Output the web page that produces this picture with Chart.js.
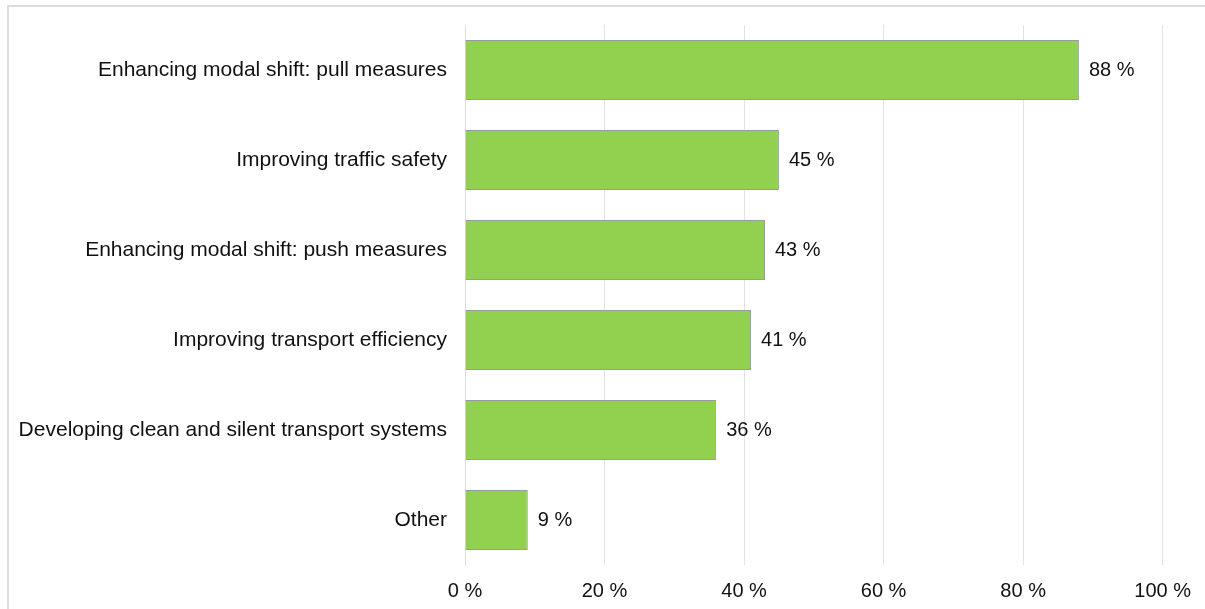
<!DOCTYPE html>
<html>
<head>
<meta charset="utf-8">
<script src="https://cdn.jsdelivr.net/npm/chart.js@4"></script>
<style>
    body { margin: 0; background: #fff; }
    #wrap { position: relative; width: 1205px; height: 609px; }
    #frame { position: absolute; left: 7px; top: 5px; right: 0; bottom: 0; border-left: 2px solid #dcdcdc; border-top: 2px solid #dcdcdc; pointer-events: none; }
    canvas { position: absolute; left: 0; top: 0; }
</style>
</head>
<body>
<div id="wrap">
    <canvas id="barChart" width="1205" height="609"></canvas>
    <div id="frame"></div>
</div>
<script>
const categories = [
    'Enhancing modal shift: pull measures',
    'Improving traffic safety',
    'Enhancing modal shift: push measures',
    'Improving transport efficiency',
    'Developing clean and silent transport systems',
    'Other'
];
const shares = [88, 45, 43, 41, 36, 9];
const xTicks = [0, 20, 40, 60, 80, 100];

const fontFamily = '"Liberation Sans", Arial, sans-serif';

// value labels at the end of each bar
const barLabels = {
    id: 'barLabels',
    afterDatasetsDraw(chart) {
        const ctx = chart.ctx;
        const meta = chart.getDatasetMeta(0);
        ctx.save();
        ctx.font = '20px ' + fontFamily;
        ctx.fillStyle = '#111';
        ctx.textBaseline = 'middle';
        ctx.textAlign = 'left';
        meta.data.forEach((bar, i) => {
            ctx.fillText(shares[i] + ' %', bar.x + 10, bar.y);
        });
        ctx.restore();
    }
};

const ctx = document.getElementById('barChart').getContext('2d');
const chart = new Chart(ctx, {
    type: 'bar',
    data: {
        labels: categories,
        datasets: [{
            data: shares,
            backgroundColor: '#92d050',
            borderColor: '#9a9a9a',
            borderWidth: 1,
            categoryPercentage: 1,
            barPercentage: 0.667
        }]
    },
    options: {
        indexAxis: 'y',
        responsive: false,
        animation: false,
        layout: {
            padding: { top: 25, right: 42, left: 0, bottom: 0 }
        },
        plugins: {
            legend: { display: false },
            tooltip: { enabled: false }
        },
        scales: {
            x: {
                min: 0,
                max: 100,
                afterBuildTicks: scale => {
                    scale.ticks = xTicks.map(v => ({ value: v }));
                },
                afterFit: scale => { scale.height = 44; },
                grid: {
                    color: '#e3e3e3',
                    lineWidth: 1,
                    drawTicks: false
                },
                border: { display: false },
                ticks: {
                    padding: 14,
                    color: '#111',
                    font: { family: fontFamily, size: 20 },
                    callback: v => v + ' %'
                }
            },
            y: {
                afterFit: scale => {
                    scale.width = 465;
                    scale.paddingTop = 0;
                    scale.paddingBottom = 0;
                },
                grid: { display: false, drawTicks: false },
                border: { color: '#dcdcdc', width: 1 },
                ticks: {
                    padding: 18,
                    color: '#111',
                    font: { family: fontFamily, size: 21 }
                }
            }
        }
    },
    plugins: [barLabels]
});
</script>
</body>
</html>
